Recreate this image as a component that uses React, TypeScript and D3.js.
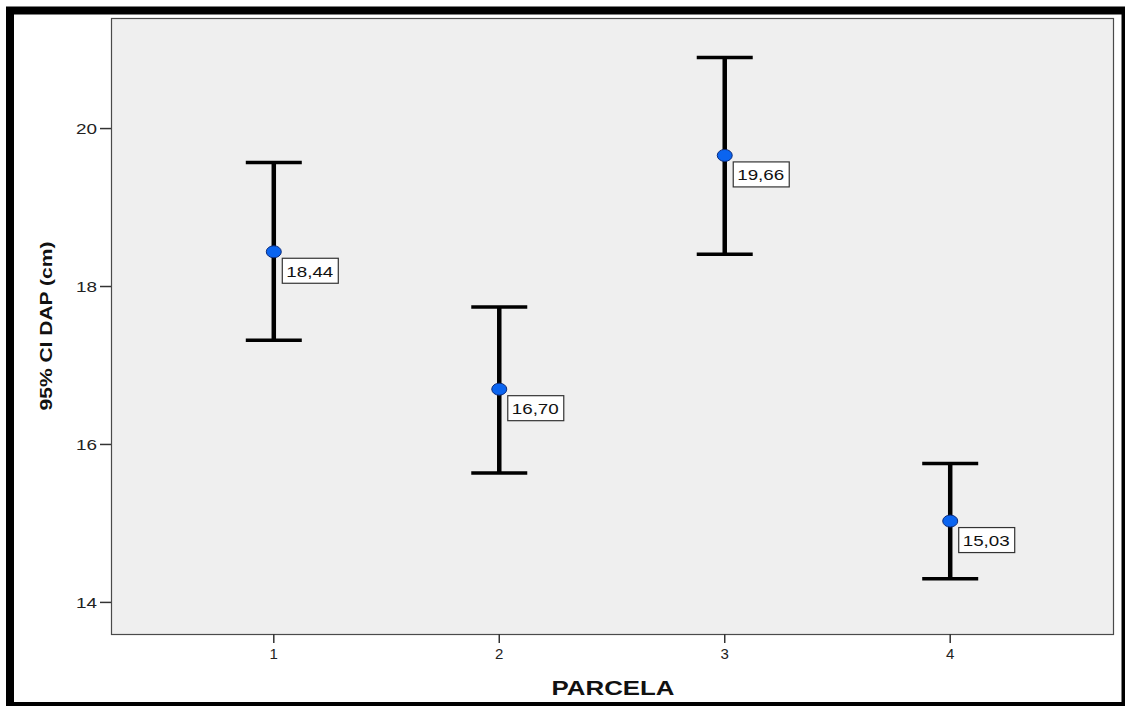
import React from 'react';
import * as d3 from 'd3';

// PARCELA categories with mean and 95% CI of DAP (cm)
const parcelas = [1, 2, 3, 4];
const means = [18.44, 16.7, 19.66, 15.03];
const lower = [17.32, 15.64, 18.41, 14.3];
const upper = [19.57, 17.74, 20.9, 15.76];
const meanLabels = ['18,44', '16,70', '19,66', '15,03'];
const yTicks = [14, 16, 18, 20];

const W = 1125;
const H = 706;
const plot = { left: 111, top: 18, right: 1113, bottom: 634 };

const App = () => {
  const x = d3.scaleLinear().domain([0.278, 4.722]).range([plot.left, plot.right]);
  const y = d3.scaleLinear().domain([13.6, 21.4]).range([plot.bottom, plot.top]);
  const capHalf = 28;
  const font = 'Liberation Sans, Arial, sans-serif';

  return (
    <svg width={W} height={H} style={{ position: 'absolute', left: 0, top: 0 }}>
      <rect x={0} y={0} width={W} height={H} fill="#fff" />
      {/* outer frame */}
      <rect x={10} y={10.5} width={1115.5} height={695.5} fill="none" stroke="#000" strokeWidth={8} />

      {/* plot area */}
      <rect
        x={plot.left + 0.5}
        y={plot.top + 0.5}
        width={plot.right - plot.left}
        height={plot.bottom - plot.top}
        fill="#efefef"
        stroke="#4a4a4a"
        strokeWidth={1.2}
      />

      {/* y axis ticks */}
      {yTicks.map(t => (
        <g key={t}>
          <line x1={plot.left - 11} x2={plot.left} y1={y(t)} y2={y(t)} stroke="#333" strokeWidth={1.5} />
          <text
            x={plot.left - 14}
            y={y(t) + 5.5}
            textAnchor="end"
            fontFamily={font}
            fontSize={15}
            fill="#222"
            textLength={21}
            lengthAdjust="spacingAndGlyphs"
          >
            {t}
          </text>
        </g>
      ))}

      {/* x axis ticks */}
      {parcelas.map(p => (
        <g key={p}>
          <line x1={x(p)} x2={x(p)} y1={plot.bottom} y2={plot.bottom + 9} stroke="#333" strokeWidth={1.5} />
          <text
            x={x(p)}
            y={plot.bottom + 25}
            textAnchor="middle"
            fontFamily={font}
            fontSize={15}
            fill="#222"
          >
            {p}
          </text>
        </g>
      ))}

      {/* error bars */}
      {parcelas.map((p, i) => (
        <g key={'eb' + p}>
          <line x1={x(p)} x2={x(p)} y1={y(upper[i])} y2={y(lower[i])} stroke="#000" strokeWidth={4.5} />
          <line x1={x(p) - capHalf} x2={x(p) + capHalf} y1={y(upper[i])} y2={y(upper[i])} stroke="#000" strokeWidth={3.5} />
          <line x1={x(p) - capHalf} x2={x(p) + capHalf} y1={y(lower[i])} y2={y(lower[i])} stroke="#000" strokeWidth={3.5} />
        </g>
      ))}

      {/* means and labels */}
      {parcelas.map((p, i) => (
        <g key={'m' + p}>
          <ellipse cx={x(p)} cy={y(means[i])} rx={7.5} ry={6} fill="#0a64f0" stroke="#0a2a7a" strokeWidth={1} />
          <rect
            x={x(p) + 8.5}
            y={y(means[i]) + 6.5}
            width={56}
            height={25}
            fill="#fff"
            stroke="#333"
            strokeWidth={1.2}
          />
          <text
            x={x(p) + 12.5}
            y={y(means[i]) + 25}
            fontFamily={font}
            fontSize={15}
            fill="#111"
            textLength={47}
            lengthAdjust="spacingAndGlyphs"
          >
            {meanLabels[i]}
          </text>
        </g>
      ))}

      {/* axis titles */}
      <text
        x={613}
        y={695}
        textAnchor="middle"
        fontFamily={font}
        fontSize={20}
        fontWeight="bold"
        fill="#111"
        textLength={123}
        lengthAdjust="spacingAndGlyphs"
      >
        PARCELA
      </text>
      <text
        transform={`translate(52,${(plot.top + plot.bottom) / 2}) rotate(-90)`}
        textAnchor="middle"
        fontFamily={font}
        fontSize={17}
        fontWeight="bold"
        fill="#111"
        textLength={169}
        lengthAdjust="spacingAndGlyphs"
      >
        95% CI DAP (cm)
      </text>
    </svg>
  );
};

export default App;
